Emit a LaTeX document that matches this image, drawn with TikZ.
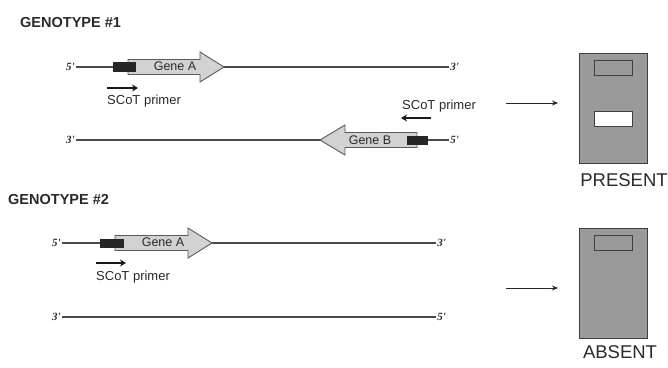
\documentclass[tikz,border=0pt]{standalone}
\usepackage{fontspec}
\setmainfont{Liberation Sans}
\newfontfamily\primefont{Liberation Serif}
\usetikzlibrary{arrows.meta}
\definecolor{txt}{HTML}{2A2A2A}
\definecolor{strandc}{HTML}{4A4A4A}
\definecolor{genefill}{HTML}{D2D2D2}
\definecolor{geneline}{HTML}{5A5A5A}
\definecolor{gelfill}{HTML}{9A9A9A}
\tikzset{
  endlbl/.style={text=txt,font=\primefont\bfseries\itshape\fontsize{11}{12}\selectfont,inner sep=1.2pt},
  strand/.style={draw=strandc,line width=1.1pt},
  genebox/.style={fill=genefill,draw=geneline,line width=0.9pt,line join=miter},
  genetxt/.style={text=txt,font=\fontsize{12.5}{14}\selectfont,inner sep=0pt},
  primer/.style={line width=2.2pt,draw=black!90,-{Stealth[length=6pt,width=7pt]}},
  primertxt/.style={text=txt,font=\fontsize{13}{15}\selectfont,inner sep=0pt},
  title/.style={text=txt,font=\bfseries\fontsize{14.5}{16}\selectfont,inner sep=0pt},
  gelbox/.style={fill=gelfill,draw=black!75,line width=0.9pt,minimum width=68pt,minimum height=110pt,inner sep=0pt},
  band/.style={draw=black!75,line width=1pt,minimum width=38pt,minimum height=15pt,inner sep=0pt},
  gelarrow/.style={draw=black!85,line width=0.9pt,-{Stealth[length=6pt,width=5pt]}},
  result/.style={text=txt,font=\fontsize{18.5}{20}\selectfont,inner sep=0pt}
}
\begin{document}
\begin{tikzpicture}[x=1pt,y=-1pt]
\useasboundingbox (0,0) rectangle (668,367);
\fill[white] (0,0) rectangle (668,367);

% ---------- GENOTYPE 1 ----------
\node[title,anchor=west] (t1) at (20,23) {GENOTYPE \#1};

\node[endlbl,anchor=east] (g1a5) at (76,67) {5'};
\node[endlbl,anchor=west] (g1a3) at (449,67) {3'};
\draw[strand] (g1a5.east) -- (g1a3.west);
\draw[genebox] (128,59.5) -- (200,59.5) -- (200,52) -- (224,67) -- (200,82) -- (200,74.5) -- (128,74.5) -- cycle;
\fill[black!85] (113,62) rectangle (136,72);
\node[genetxt] (gA1) at (175,66) {Gene A};
\coordinate (p1s) at (107,88);
\coordinate (p1e) at (138,88);
\draw[primer] (p1s) -- (p1e);
\node[primertxt,anchor=west] (pt1) at (107,101) {SCoT primer};

\node[endlbl,anchor=east] (g1b3) at (76,140) {3'};
\node[endlbl,anchor=west] (g1b5) at (449,140) {5'};
\draw[strand] (g1b3.east) -- (g1b5.west);
\draw[genebox] (417,132.5) -- (345,132.5) -- (345,125) -- (320,140) -- (345,155) -- (345,147.5) -- (417,147.5) -- cycle;
\fill[black!85] (407,136) rectangle (428,145);
\node[genetxt] (gB1) at (370,140) {Gene B};
\coordinate (p2s) at (431,118);
\coordinate (p2e) at (401,118);
\draw[primer] (p2s) -- (p2e);
\node[primertxt,anchor=west] (pt2) at (402,106) {SCoT primer};

\coordinate (a1s) at (506,103);
\coordinate (a1e) at (558,103);
\draw[gelarrow] (a1s) -- (a1e);
\node[gelbox] (gel1) at (613,108) {};
\node[band,fill=gelfill] (b11) at (613,67.5) {};
\node[band,fill=white] (b12) at (613,118.5) {};
\node[result] (r1) at (624,180) {PRESENT};

% ---------- GENOTYPE 2 ----------
\node[title,anchor=west] (t2) at (8,200) {GENOTYPE \#2};

\node[endlbl,anchor=east] (g2a5) at (62,243) {5'};
\node[endlbl,anchor=west] (g2a3) at (436,243) {3'};
\draw[strand] (g2a5.east) -- (g2a3.west);
\draw[genebox] (115,235.5) -- (188,235.5) -- (188,228) -- (212,243) -- (188,258) -- (188,250.5) -- (115,250.5) -- cycle;
\fill[black!85] (100,239) rectangle (124,248);
\node[genetxt] (gA2) at (163,242) {Gene A};
\coordinate (p3s) at (96,263);
\coordinate (p3e) at (126,263);
\draw[primer] (p3s) -- (p3e);
\node[primertxt,anchor=west] (pt3) at (96,277) {SCoT primer};

\node[endlbl,anchor=east] (g2b3) at (62,317) {3'};
\node[endlbl,anchor=west] (g2b5) at (436,317) {5'};
\draw[strand] (g2b3.east) -- (g2b5.west);

\coordinate (a2s) at (506,288);
\coordinate (a2e) at (558,288);
\draw[gelarrow] (a2s) -- (a2e);
\node[gelbox] (gel2) at (613,283) {};
\node[band,fill=gelfill] (b21) at (613,243) {};
\node[result] (r2) at (620,352) {ABSENT};
\end{tikzpicture}
\end{document}
